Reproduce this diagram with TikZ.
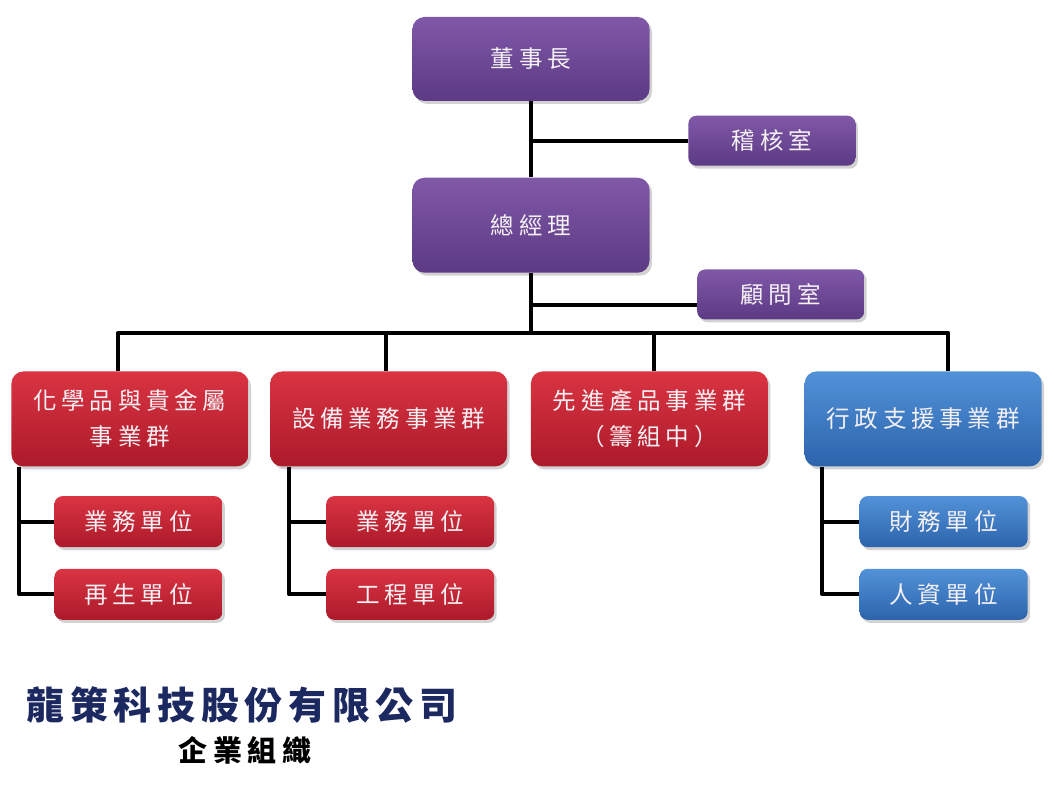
\documentclass[tikz,border=0pt]{standalone}
\usepackage{fontspec}
\usepackage{tikz}
\usetikzlibrary{
  positioning,
  calc,
  shadows
}
\newfontfamily\cjkbox{Noto Sans CJK TC}[LetterSpace=20]
\newfontfamily\cjktitle{Noto Sans CJK TC}[LetterSpace=15]
\newfontfamily\cjksub{Noto Sans CJK TC}[LetterSpace=20]
\definecolor{PurpleTop}{RGB}{128,88,168}
\definecolor{PurpleBottom}{RGB}{92,58,132}
\definecolor{RedTop}{RGB}{218,52,66}
\definecolor{RedBottom}{RGB}{172,26,42}
\definecolor{BlueTop}{RGB}{82,146,216}
\definecolor{BlueBottom}{RGB}{44,100,172}
\definecolor{BoxText}{RGB}{244,240,244}
\definecolor{TitleNavy}{RGB}{28,40,96}
\tikzset{
  orgbox/.style={rounded corners=2.4mm,minimum width=47.4mm,minimum height=19mm,inner sep=0pt,align=center,text=BoxText,font=\cjkbox\fontsize{13.4}{20.5}\selectfont,drop shadow={opacity=0.35,shadow xshift=0.5mm,shadow yshift=-0.6mm}},
  unitbox/.style={rounded corners=1.6mm,minimum width=33.6mm,minimum height=10.2mm,inner sep=0pt,align=center,text=BoxText,font=\cjkbox\fontsize{13.4}{16}\selectfont,drop shadow={opacity=0.35,shadow xshift=0.5mm,shadow yshift=-0.6mm}},
  purplefill/.style={top color=PurpleTop,bottom color=PurpleBottom},
  redfill/.style={top color=RedTop,bottom color=RedBottom},
  bluefill/.style={top color=BlueTop,bottom color=BlueBottom},
  link/.style={line width=2.3pt,draw=black,line join=round}
}
\begin{document}
\begin{tikzpicture}[x=0.2mm,y=-0.2mm]
\useasboundingbox[fill=white] (0,0) rectangle (1054,788);
% top management
\node[orgbox, purplefill, minimum height=16.8mm] (chair) at (531,59) {董事長};
\node[unitbox, purplefill, minimum width=33.4mm, minimum height=10mm, below right=2.8mm and 31.4mm of chair.south] (audit) {稽核室};
\node[orgbox, purplefill, below=15.2mm of chair] (gm) {總經理};
\node[unitbox, purplefill, minimum width=33.4mm, minimum height=10mm, below right=-0.8mm and 9.4mm of gm.south east] (advisor) {顧問室};
\coordinate[below=12mm of gm.south] (bus);
% business groups
\node[orgbox, redfill, below=7.6mm of bus, xshift=-80.2mm] (chem) {化學品與貴金屬\\事業群};
\node[orgbox, redfill, right=4.2mm of chem] (equip) {設備業務事業群};
\node[orgbox, redfill, right=4.6mm of equip] (adv) {先進產品事業群\\（籌組中）};
\node[orgbox, bluefill, right=7.2mm of adv] (admin) {行政支援事業群};
% units
\node[unitbox, redfill, below right=5.8mm and 8.6mm of chem.south west] (chemsales) {業務單位};
\node[unitbox, redfill, below=4.2mm of chemsales] (chemrecycle) {再生單位};
\node[unitbox, redfill, below right=5.8mm and 11.2mm of equip.south west] (equipsales) {業務單位};
\node[unitbox, redfill, below=4.2mm of equipsales] (equipeng) {工程單位};
\node[unitbox, bluefill, below right=5.8mm and 11mm of admin.south west] (finance) {財務單位};
\node[unitbox, bluefill, below=4.2mm of finance] (hr) {人資單位};
% connectors
\draw[link] (chair) -- (gm);
\draw[link] (audit.west) -| (chair.south);
\draw[link] (gm.south) -- (bus);
\draw[link] ([yshift=-2.2mm]advisor.west) -| (gm.south);
\draw[link] ([xshift=-2.4mm]chem.north) |- (bus);
\draw[link] ([xshift=-0.5mm]equip.north) |- (bus);
\draw[link] ([xshift=1mm]adv.north) |- (bus);
\draw[link] ([xshift=5mm]admin.north) |- (bus);
\draw[link] ([xshift=1.6mm]chem.south west) |- (chemsales.west);
\draw[link] ([xshift=1.6mm]chem.south west) |- (chemrecycle.west);
\draw[link] ([xshift=3.8mm]equip.south west) |- (equipsales.west);
\draw[link] ([xshift=3.8mm]equip.south west) |- (equipeng.west);
\draw[link] ([xshift=3.6mm]admin.south west) |- (finance.west);
\draw[link] ([xshift=3.6mm]admin.south west) |- (hr.west);
% caption
\node[text=TitleNavy, font=\cjktitle\bfseries\fontsize{21.6}{24}\selectfont] (company) at (242,705) {龍策科技股份有限公司};
\node[text=black, font=\cjksub\bfseries\fontsize{16.5}{20}\selectfont] (chart) at (245,750) {企業組織};
\end{tikzpicture}
\end{document}
